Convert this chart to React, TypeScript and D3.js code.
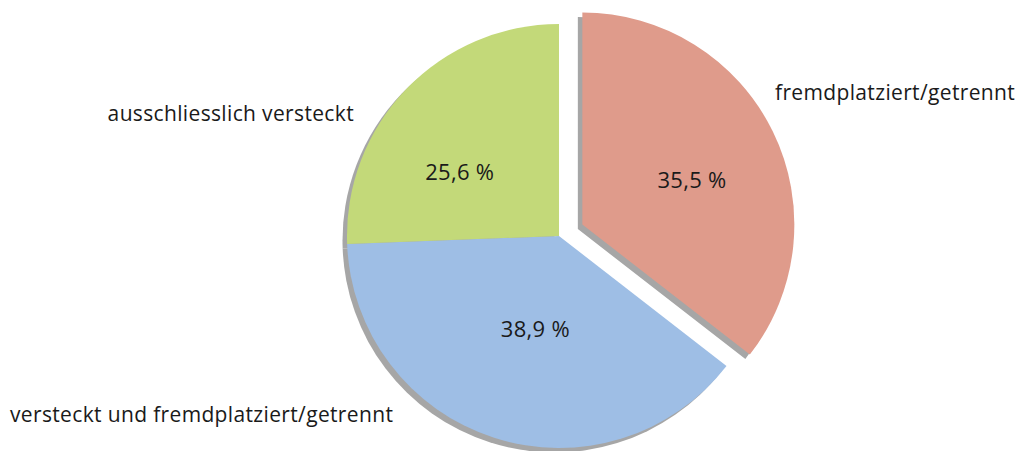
import React from "react";
import * as d3 from "d3";

const categories = ["fremdplatziert/getrennt", "versteckt und fremdplatziert/getrennt", "ausschliesslich versteckt"];
const values = [35.5, 38.9, 25.6];
const valueLabels = ["35,5 %", "38,9 %", "25,6 %"];
const colors = ["#DF9B8B", "#9EBEE5", "#C3D979"];
const exploded = [true, false, false];

// label layout (polar relative to slice apex: angle deg clockwise from top, distance px)
const pctPolar = [
  [71.5, 115.6],
  [193.2, 103.4],
  [299.4, 114],
];
// category label layout (anchor x, baseline y offsets from pie center, text-anchor)
const catLayout: [number, number, string][] = [
  [216, -136.5, "start"],
  [-549, 185.7, "start"],
  [-205, -115, "end"],
];

const W = 1016;
const H = 451;
const cx = 559;
const cy = 236;
const R = 212;
const explodeDist = 26;
const shadowDx = -4.5;
const shadowDy = 4.5;

export default function App() {
  const pie = d3.pie<number>().sort(null).value((d) => d);
  const arcs = pie(values);
  const arc = d3.arc<d3.PieArcDatum<number>>().innerRadius(0).outerRadius(R);

  const offsets = arcs.map((a, i) => {
    if (!exploded[i]) return [0, 0];
    const mid = (a.startAngle + a.endAngle) / 2;
    return [Math.sin(mid) * explodeDist, -Math.cos(mid) * explodeDist];
  });

  const font = "'Open Sans', 'Noto Sans', sans-serif";

  return (
    <svg width={W} height={H} style={{ position: "absolute", left: 0, top: 0, background: "#fff" }}>
      <g transform={`translate(${cx},${cy})`}>
        {arcs.map((a, i) => (
          <path
            key={"s" + i}
            d={arc(a) || ""}
            fill="#A6A6A6"
            transform={`translate(${offsets[i][0] + shadowDx},${offsets[i][1] + shadowDy})`}
          />
        ))}
        {arcs.map((a, i) => (
          <path
            key={"p" + i}
            d={arc(a) || ""}
            fill={colors[i]}
            transform={`translate(${offsets[i][0]},${offsets[i][1]})`}
          />
        ))}
        {arcs.map((a, i) => {
          const ang = (pctPolar[i][0] * Math.PI) / 180;
          const x = offsets[i][0] + Math.sin(ang) * pctPolar[i][1];
          const y = offsets[i][1] - Math.cos(ang) * pctPolar[i][1];
          return (
            <text
              key={"v" + i}
              x={x}
              y={y}
              textAnchor="middle"
              fontFamily={font}
              fontSize={22}
              letterSpacing={0.3}
              fill="#1a1a1a"
            >
              {valueLabels[i]}
            </text>
          );
        })}
        {categories.map((c, i) => (
          <text
            key={"c" + i}
            x={catLayout[i][0]}
            y={catLayout[i][1]}
            textAnchor={catLayout[i][2] as any}
            fontFamily={font}
            fontSize={21}
            letterSpacing={0.35}
            fill="#1a1a1a"
          >
            {c}
          </text>
        ))}
      </g>
    </svg>
  );
}
